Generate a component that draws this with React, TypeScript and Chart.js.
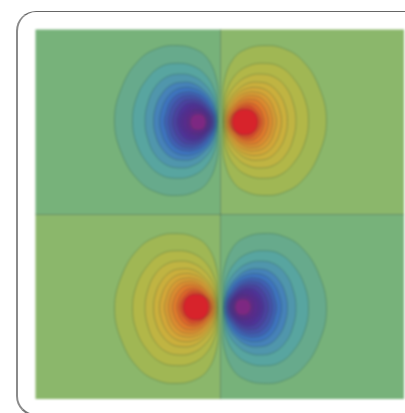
import React, { useEffect, useRef } from "react";
import { Chart, registerables } from "chart.js";

Chart.register(...registerables);

type Pt = [number, number];

// Contours: [distance from the vertical axis, height above the lobe's peak row]
const LEVEL_1: Pt[] = [[2, 0], [2.2, 18], [3.8, 40], [13, 62], [27, 72], [44.5, 75], [62, 72.5], [81, 61], [98, 35], [106, 0]];
const LEVEL_2: Pt[] = [[2.5, 0], [3, 12], [6, 30], [15, 46], [28, 55], [43, 57.5], [59, 54.5], [73, 42.5], [84, 23], [88, 0]];
const LEVEL_3: Pt[] = [[3, 0], [4, 10], [7.5, 25], [17, 38], [28, 45], [40, 47], [54, 44], [66, 33], [73, 17], [75.5, 0]];
const LEVEL_4: Pt[] = [[3.5, 0], [4.5, 9], [9, 21.5], [18, 32], [28, 38], [38, 39], [49, 36.5], [59, 27], [65, 14], [67, 0]];
const LEVEL_5: Pt[] = [[4, 0], [5, 8], [10, 19.5], [18, 28.5], [27, 33], [36, 34], [46, 31], [54, 23], [59, 12], [61, 0]];
const LEVEL_6: Pt[] = [[5, 0], [6, 7], [11, 17], [18, 25], [27, 29], [34, 29.5], [43, 27], [50, 20], [54, 10], [56, 0]];
const LEVEL_7: Pt[] = [[6, 0], [7, 7], [12, 15], [19, 22], [26, 25.5], [32, 26], [40, 24], [47, 17], [50.5, 9], [52, 0]];
const LEVEL_8: Pt[] = [[7, 0], [8, 6], [13, 13.5], [19, 19.5], [25, 22], [30, 22.5], [37, 21], [43, 15], [46.5, 8], [48, 0]];
const LEVEL_9: Pt[] = [[8.5, 0], [10, 6], [14.5, 12.5], [20, 17], [25, 18.8], [28, 19], [34, 17.5], [39, 13], [42, 7], [43.5, 0]];
const LEVEL_10: Pt[] = [[9.5, 0], [11, 5.5], [15, 10.5], [20, 14.5], [25, 16], [30, 15.6], [35, 12], [39, 6], [40.5, 0]];
const LEVEL_11: Pt[] = [[11.5, 0], [12.5, 5], [15, 9.2], [20, 12.5], [24.5, 13], [29, 12.5], [34, 9.2], [36.5, 5], [37.5, 0]];
const BLUE_LEVEL_12: Pt[] = [[12.5, 0], [13.5, 4], [16, 8], [20, 10.6], [23.5, 11], [27, 10.5], [31, 8], [33, 4], [33.5, 0]];
const BLUE_CAP: Pt[] = [[14.5, 0], [15.5, 4], [18, 7], [22.5, 8], [27, 7], [29.5, 4], [30.5, 0]];

const SHARED_LEVELS: Pt[][] = [LEVEL_1, LEVEL_2, LEVEL_3, LEVEL_4, LEVEL_5, LEVEL_6, LEVEL_7, LEVEL_8, LEVEL_9, LEVEL_10, LEVEL_11];
const LEVEL_SHIFT = [1.5, 1.2, 1, 0.8, 0.6, 0.5, 0.4, 0.3, 0.2, 0.1, 0, 0, 0];

const WARM_COLORS = [
  "rgb(160,183,84)", "rgb(178,183,72)", "rgb(192,180,66)", "rgb(203,175,60)", "rgb(212,167,56)", "rgb(218,155,52)",
  "rgb(222,140,48)", "rgb(224,122,44)", "rgb(224,100,42)", "rgb(220,75,42)", "rgb(215,35,43)",
];
const COOL_COLORS = [
  "rgb(103,170,140)", "rgb(88,165,160)", "rgb(80,150,172)", "rgb(70,130,185)", "rgb(62,115,190)", "rgb(65,95,180)",
  "rgb(70,80,170)", "rgb(75,65,160)", "rgb(80,50,155)", "rgb(85,45,150)", "rgb(90,42,145)", "rgb(98,40,140)", "rgb(125,40,130)",
];
const COOL_BACKGROUND = "rgb(119,178,122)";
const WARM_BACKGROUND = "rgb(139,183,107)";

const LOBE_ROW = 92.5;
const X_LEFT = -185;
const X_RIGHT = 183.5;
const Y_TOP = 185;
const Y_BOTTOM = -184.5;
const LINE_COLOR = "rgba(40,80,60,0.3)";
const AXIS_COLOR = "rgba(50,90,60,0.5)";

function outline(level: Pt[], sx: number, sy: number, shift: number) {
  const upper = level.map(([x, y]) => ({ x: sx * x, y: sy * (LOBE_ROW + shift + y) }));
  const lower = [...level].reverse().slice(1).map(([x, y]) => ({ x: sx * x, y: sy * (LOBE_ROW + shift - y) }));
  return [...upper, ...lower];
}

function polygon(x0: number, y0: number, x1: number, y1: number, color: string) {
  return {
    data: [{ x: x0, y: y0 }, { x: x1, y: y0 }, { x: x1, y: y1 }, { x: x0, y: y1 }, { x: x0, y: y0 }],
    showLine: true, fill: "shape", backgroundColor: color, borderWidth: 0, pointRadius: 0, tension: 0,
  };
}

function lobe(levels: Pt[][], colors: string[], sx: number, sy: number) {
  return levels.map((level, i) => ({
    data: outline(level, sx, sy, LEVEL_SHIFT[i]),
    showLine: true, fill: "shape", backgroundColor: colors[i], borderColor: LINE_COLOR, borderWidth: 1,
    pointRadius: 0, tension: 0.4,
  }));
}

function rule(x0: number, y0: number, x1: number, y1: number) {
  return {
    data: [{ x: x0, y: y0 }, { x: x1, y: y1 }],
    showLine: true, fill: false, borderColor: AXIS_COLOR, borderWidth: 1, pointRadius: 0, tension: 0,
  };
}

export default function App() {
  const ref = useRef<HTMLCanvasElement>(null);
  useEffect(() => {
    document.body.style.margin = "0";
    const coolLevels = [...SHARED_LEVELS, BLUE_LEVEL_12, BLUE_CAP];
    const back = [
      polygon(X_LEFT, 0, 0, Y_TOP, COOL_BACKGROUND),
      polygon(0, 0, X_RIGHT, Y_TOP, WARM_BACKGROUND),
      polygon(X_LEFT, Y_BOTTOM, 0, 0, WARM_BACKGROUND),
      polygon(0, Y_BOTTOM, X_RIGHT, 0, COOL_BACKGROUND),
      ...lobe(coolLevels, COOL_COLORS, -1, 1),
      ...lobe(SHARED_LEVELS, WARM_COLORS, 1, 1),
      ...lobe(SHARED_LEVELS, WARM_COLORS, -1, -1),
      ...lobe(coolLevels, COOL_COLORS, 1, -1),
      rule(0, Y_BOTTOM, 0, Y_TOP),
      rule(X_LEFT, 0, X_RIGHT, 0),
    ];
    const chart = new Chart(ref.current!, {
      type: "scatter",
      data: { datasets: back.reverse() as any },
      options: {
        animation: false,
        responsive: false,
        devicePixelRatio: 1,
        layout: { padding: 0 },
        plugins: { legend: { display: false }, tooltip: { enabled: false } },
        scales: {
          x: { type: "linear", display: false, min: -220.5, max: 184.5 },
          y: { type: "linear", display: false, min: -198.5, max: 214.5 },
        },
      } as any,
    });
    return () => chart.destroy();
  }, []);
  return (
    <div style={{ position: "fixed", inset: 0, overflow: "hidden", background: "#fff" }}>
      <div style={{ position: "absolute", left: 16, top: 10.5, width: 430, height: 405, boxSizing: "border-box", borderStyle: "solid", borderColor: "#666 #666 #777 #8a8a8a", borderWidth: "1.6px 1.6px 2px 2.4px", borderRadius: 20, filter: "blur(0.4px)" }} />
      <canvas ref={ref} width={405} height={413} style={{ position: "absolute", left: 0, top: 0, width: 405, height: 413, filter: "blur(0.8px)" }} />
    </div>
  );
}
